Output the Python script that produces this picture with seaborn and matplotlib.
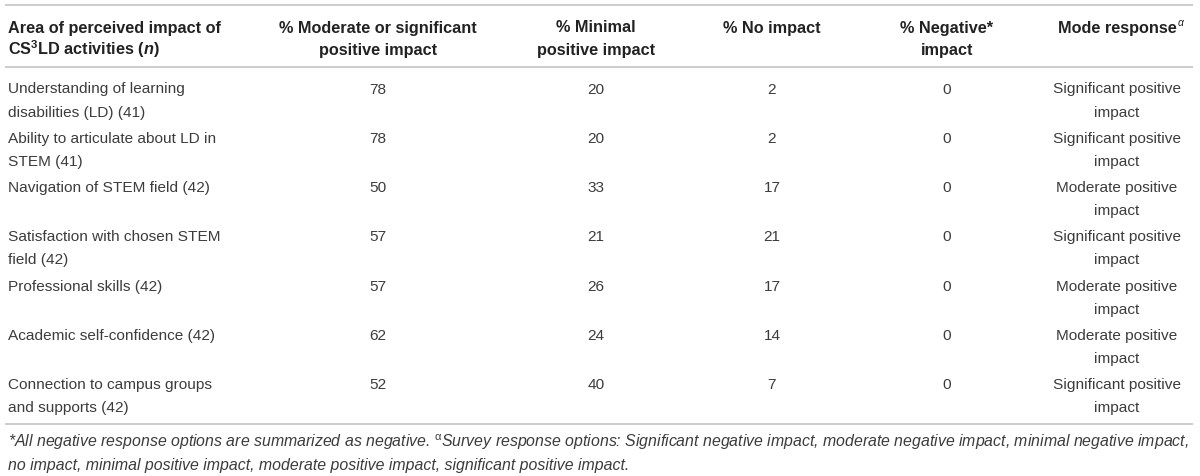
import numpy as np
import pandas as pd
import seaborn as sns
import matplotlib
matplotlib.use('Agg')
import matplotlib.pyplot as plt

# DATA
areas = ['Understanding of learning\ndisabilities (LD) (41)',
         'Ability to articulate about LD in\nSTEM (41)',
         'Navigation of STEM field (42)',
         'Satisfaction with chosen STEM\nfield (42)',
         'Professional skills (42)',
         'Academic self-confidence (42)',
         'Connection to campus groups\nand supports (42)']
moderate_significant = [78, 78, 50, 57, 57, 62, 52]
minimal_positive = [20, 20, 33, 21, 26, 24, 40]
no_impact = [2, 2, 17, 21, 17, 14, 7]
negative = [0, 0, 0, 0, 0, 0, 0]
mode_response = ['Significant positive\nimpact', 'Significant positive\nimpact',
                 'Moderate positive\nimpact', 'Significant positive\nimpact',
                 'Moderate positive\nimpact', 'Moderate positive\nimpact',
                 'Significant positive\nimpact']
headers = ['Area of perceived impact of\nCS$^{\\mathbf{3}}$LD activities ($\\mathit{n}$)',
           '% Moderate or significant\npositive impact',
           '% Minimal\npositive impact',
           '% No impact',
           '% Negative*\nimpact',
           'Mode response']
footnote = ['*All negative response options are summarized as negative. $^{\\mathrm{\\alpha}}$Survey response options: '
            'Significant negative impact, moderate negative impact, minimal negative impact,',
            'no impact, minimal positive impact, moderate positive impact, significant positive impact.']

df = pd.DataFrame({'area': areas, 'mod_sig': moderate_significant, 'minimal': minimal_positive,
                   'none': no_impact, 'neg': negative, 'mode': mode_response})

# STYLE
sns.set_theme(style='white')
plt.rcParams['font.family'] = ['Liberation Sans', 'DejaVu Sans']
plt.rcParams['mathtext.fontset'] = 'custom'
plt.rcParams['mathtext.rm'] = 'Liberation Sans'
plt.rcParams['mathtext.bf'] = 'Liberation Sans:bold'
plt.rcParams['mathtext.it'] = 'Liberation Sans:italic:bold'

fig = plt.figure(figsize=(12, 4.77), dpi=100)
ax = fig.add_axes([0, 0, 1, 1])
ax.set_xlim(0, 1200)
ax.set_ylim(477, 0)
ax.axis('off')

col_x = [8, 378, 596, 772, 947, 1117]
col_ha = ['left', 'center', 'center', 'center', 'center', 'center']
line_h = 23
head_c = '#222222'
body_c = '#3c3c3c'
fs_head = 11.7
fs_body = 11.1


def put(x, y, s, ha, **kw):
    # y is the visual middle of the first line; place on baselines
    out = []
    for i, part in enumerate(s.split('\n')):
        out.append(ax.text(x, y + 5.5 + i * line_h, part, ha=ha, va='baseline', **kw))
    return out


# rules
ax.hlines([6, 68, 425], 5, 1193, color='#c8c8c8', lw=1.3)

# header
head_texts = []
for x, ha, h in zip(col_x, col_ha, headers):
    head_texts.append(put(x, 27, h, ha, fontsize=fs_head, fontweight='bold', color=head_c))

# rows
row_y = 88 + 49.3 * np.arange(len(df))
cols = ['area', 'mod_sig', 'minimal', 'none', 'neg', 'mode']
for y, (_, r) in zip(row_y, df.iterrows()):
    for x, ha, c in zip(col_x, col_ha, cols):
        put(x, y, str(r[c]), ha, fontsize=fs_body, color=body_c)

# footnote, fitted to table width
t1 = ax.text(8, 447, footnote[0], ha='left', va='baseline', fontsize=10, style='italic', color=body_c)
fig.canvas.draw()
w = t1.get_window_extent().width
ffs = 10 * 1182 / w
t1.set_fontsize(ffs)
ax.text(8, 470, footnote[1], ha='left', va='baseline', fontsize=ffs, style='italic', color=body_c)

# superscript alpha after "Mode response"
bb = head_texts[-1][0].get_window_extent()
x_right = ax.transData.inverted().transform((bb.x1, bb.y0))[0]
ax.text(x_right + 1, 26, '\u03b1', ha='left', va='baseline', fontsize=7.5,
        style='italic', color=head_c)

fig.savefig('out.png', dpi=100, facecolor='white')
